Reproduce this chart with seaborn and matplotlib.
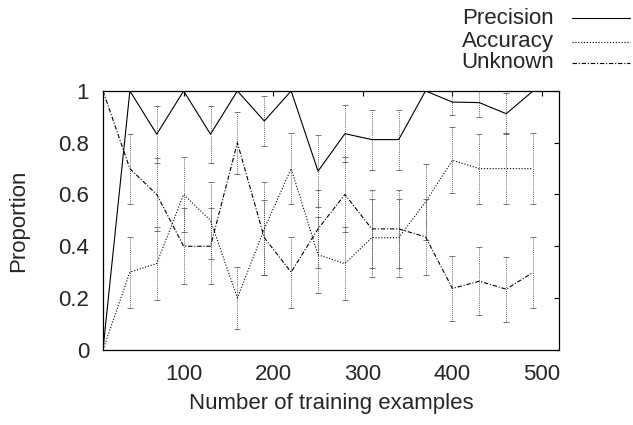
import numpy as np
import pandas as pd
import matplotlib
matplotlib.use("Agg")
import matplotlib.pyplot as plt
from matplotlib.lines import Line2D
import seaborn as sns

# ---- data ----
examples = [10, 40, 70, 100, 130, 160, 190, 220, 250, 280, 310, 340, 370, 400, 430, 460, 490]
precision = [0.0, 1.0, 0.833, 1.0, 0.833, 1.0, 0.884, 1.0, 0.69, 0.835, 0.812, 0.812, 1.0, 0.957, 0.955, 0.912, 1.0]
accuracy = [0.0, 0.3, 0.333, 0.6, 0.5, 0.2, 0.467, 0.7, 0.367, 0.333, 0.433, 0.433, 0.571, 0.732, 0.7, 0.7, 0.7]
unknown = [1.0, 0.7, 0.6, 0.4, 0.4, 0.8, 0.433, 0.3, 0.467, 0.6, 0.467, 0.467, 0.436, 0.237, 0.265, 0.234, 0.299]
precision_err = [0, 0, 0.11, 0, 0.11, 0, 0.097, 0, 0.14, 0.11, 0.116, 0.116, 0, 0.05, 0.057, 0.08, 0]
accuracy_err = [0, 0.137, 0.14, 0.145, 0.15, 0.12, 0.18, 0.137, 0.147, 0.14, 0.15, 0.15, 0.146, 0.128, 0.135, 0.137, 0.137]
unknown_err = [0, 0.135, 0.14, 0.146, 0.146, 0.12, 0.145, 0.137, 0.15, 0.145, 0.15, 0.15, 0.146, 0.126, 0.132, 0.126, 0.137]
series_names = ["Precision", "Accuracy", "Unknown"]
x_ticks = [100, 200, 300, 400, 500]
y_ticks = [0, 0.2, 0.4, 0.6, 0.8, 1]
y_tick_labels = ["0", "0.2", "0.4", "0.6", "0.8", "1"]

sns.set_style("white")
plt.rcParams["font.family"] = ["Liberation Sans", "DejaVu Sans"]
plt.rcParams["font.size"] = 16

styles = {
    "Precision": "-",
    "Accuracy": (0, (1, 1.6)),
    "Unknown": (0, (4, 1.6, 1, 1.6)),
}

df = pd.DataFrame({
    "examples": examples * 3,
    "value": precision + accuracy + unknown,
    "err": precision_err + accuracy_err + unknown_err,
    "series": sum([[n] * len(examples) for n in series_names], []),
})

fig = plt.figure(figsize=(6.33, 4.25), dpi=100)
ax = fig.add_axes([0.1627, 0.177, 0.7205, 0.609])

for name in series_names:
    sub = df[df["series"] == name]
    sub_e = sub[sub["err"] > 0]
    _, caps, _ = ax.errorbar(sub_e["examples"], sub_e["value"], yerr=sub_e["err"], fmt="none",
                             ecolor="0.25", elinewidth=0.6, capsize=2.2, capthick=0.5,
                             zorder=2)
    for c in caps:
        c.set_color("0.5")
for coll in ax.collections:
    coll.set_linestyle((0, (1, 1.3)))

for name in series_names:
    sub = df[df["series"] == name]
    sns.lineplot(data=sub, x="examples", y="value", ax=ax, color="black",
                 linewidth=0.8, linestyle=styles[name], estimator=None,
                 errorbar=None, legend=False, zorder=3)

ax.set_xlim(10, 519)
ax.set_ylim(0, 1)
ax.set_xticks(x_ticks)
ax.set_yticks(y_ticks)
ax.set_yticklabels(y_tick_labels)
ax.tick_params(direction="in", length=3.5, width=0.8, top=True, right=True,
               labelsize=16, color="black")
ax.tick_params(axis="x", pad=10)
ax.tick_params(axis="y", pad=10)
for s in ax.spines.values():
    s.set_linewidth(0.9)
    s.set_color("black")
ax.set_xlabel("Number of training examples", fontsize=16, labelpad=6)
ax.set_ylabel("Proportion", fontsize=16, labelpad=21)

# legend in gnuplot style (text right-aligned, sample on the right)
leg_y = [1 - 18.3 / 425, 1 - 41.5 / 425, 1 - 62.7 / 425]
for name, yy in zip(series_names, leg_y):
    fig.text(554 / 633, yy, name, ha="right", va="center", fontsize=16)
    fig.add_artist(Line2D([572 / 633, 630 / 633], [yy, yy], transform=fig.transFigure,
                          color="black", linewidth=0.8, linestyle=styles[name]))

fig.savefig("out.png", dpi=100)
